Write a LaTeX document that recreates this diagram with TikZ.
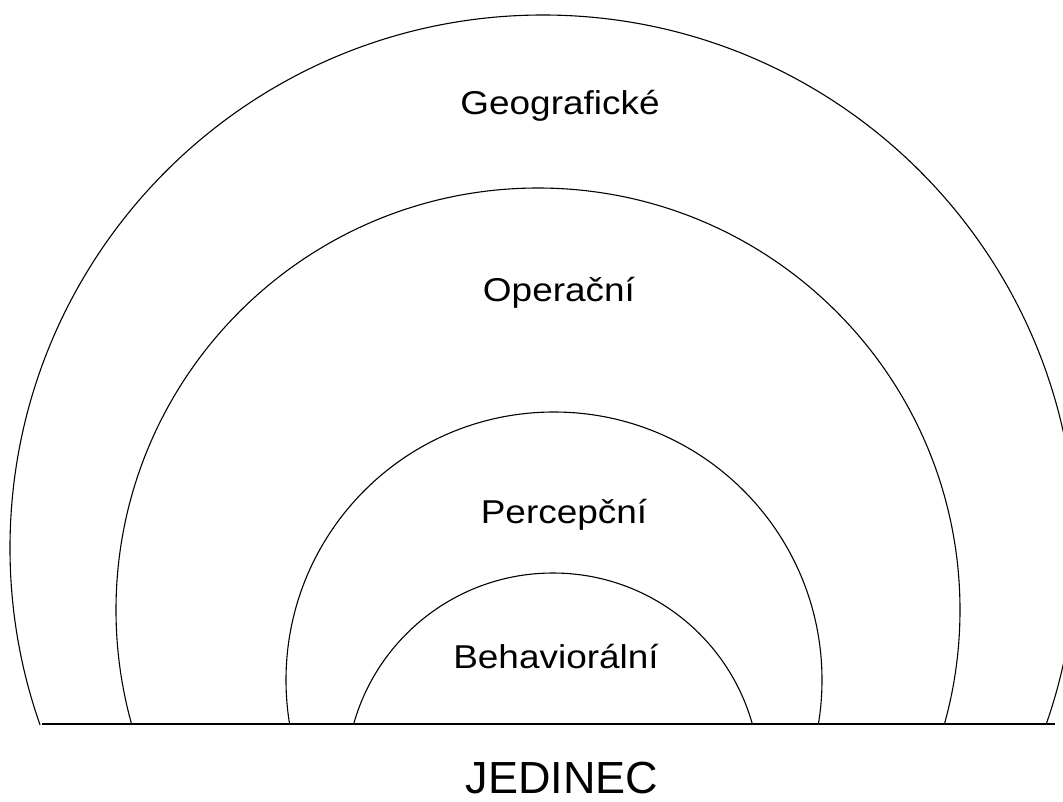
\documentclass[tikz,border=0pt]{standalone}
\usepackage{fontspec}
\setmainfont{Liberation Sans}
\newfontfamily\zonefont[FakeStretch=1.12]{Liberation Sans}
\usetikzlibrary{positioning}

\begin{document}
\begin{tikzpicture}[x=1pt,y=-1pt,line width=1.1pt,
    zone/.style={font=\zonefont\fontsize{33}{40}\selectfont,anchor=base}]
                  \pgfmathsetmacro{\groundy}{724}
                  \useasboundingbox (0,0) rectangle (1063,801);
                  \coordinate (left) at (42,\groundy);
                  \coordinate (right) at (1055,\groundy);
                  \begin{scope}
                  \clip (0,0) rectangle (1063,\groundy);
                  \draw (543,548) circle[radius=533pt];
                  \draw (538,610) circle[radius=422pt];
                  \draw (554,680) circle[radius=268pt];
                  \draw (553,780) circle[radius=207pt];
                  \end{scope}
                  \draw (left) -- (right);
                  \node[zone] (geo) at (560,114) {Geografické};
                  \node[zone] (oper) at (559,301) {Operační};
                  \node[zone] (perc) at (564,523) {Percepční};
                  \node[zone] (beh) at (556,668) {Behaviorální};
                  \node[anchor=base,inner sep=0pt,font=\fontsize{45}{54}\selectfont] (jed) at (562,793) {JEDINEC};
              \end{tikzpicture}
\end{document}
